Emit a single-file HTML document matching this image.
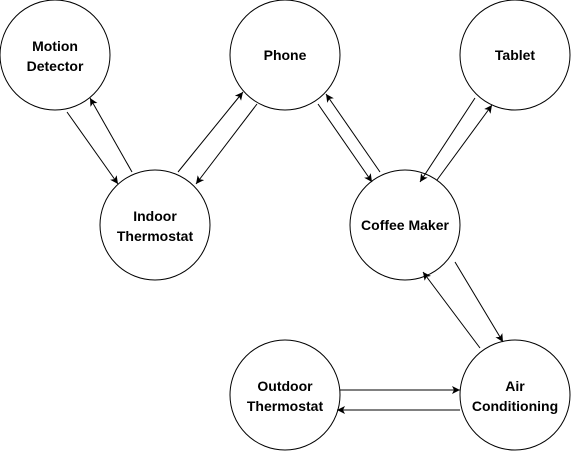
<!DOCTYPE html>
<html><head><style>html,body{margin:0;padding:0;background:#fff}</style></head><body>
<svg width="571" height="452" viewBox="0 0 571 452" xmlns="http://www.w3.org/2000/svg" font-family="Liberation Sans, Arial, sans-serif" font-size="14" font-weight="bold">
<defs><marker id="a" markerWidth="10" markerHeight="10" refX="8" refY="4" orient="auto" markerUnits="userSpaceOnUse"><path d="M0,0 L8,4 L0,8 L2,4 Z" fill="#000"/></marker></defs>
<g fill="#fff" stroke="#000" stroke-width="1">
<circle cx="55" cy="55" r="55"/>
<circle cx="285" cy="55" r="55"/>
<circle cx="515" cy="55" r="55"/>
<circle cx="155" cy="225" r="55"/>
<circle cx="405" cy="225" r="55"/>
<circle cx="285" cy="395" r="55"/>
<circle cx="515" cy="395" r="55"/>
</g>
<g stroke="#000" stroke-width="1" marker-end="url(#a)">
<line x1="67" y1="112" x2="118" y2="184"/>
<line x1="132" y1="172" x2="90" y2="98"/>
<line x1="178" y1="172" x2="243" y2="92"/>
<line x1="257" y1="104" x2="196" y2="184"/>
<line x1="318" y1="104" x2="372" y2="182"/>
<line x1="380" y1="172" x2="326" y2="94"/>
<line x1="475" y1="98" x2="420" y2="182"/>
<line x1="437" y1="180" x2="492" y2="105"/>
<line x1="455" y1="262" x2="503" y2="342"/>
<line x1="480" y1="348" x2="423" y2="272"/>
<line x1="340" y1="390" x2="460" y2="390"/>
<line x1="460" y1="410" x2="337" y2="410"/>
</g>
<g text-anchor="middle" fill="#000">
<text x="55" y="51">Motion</text><text x="55" y="71">Detector</text>
<text x="285" y="60">Phone</text>
<text x="515" y="60">Tablet</text>
<text x="155" y="221">Indoor</text><text x="155" y="241">Thermostat</text>
<text x="405" y="230">Coffee Maker</text>
<text x="285" y="391">Outdoor</text><text x="285" y="411">Thermostat</text>
<text x="515" y="391">Air</text><text x="515" y="411">Conditioning</text>
</g>
</svg>
</body></html>
